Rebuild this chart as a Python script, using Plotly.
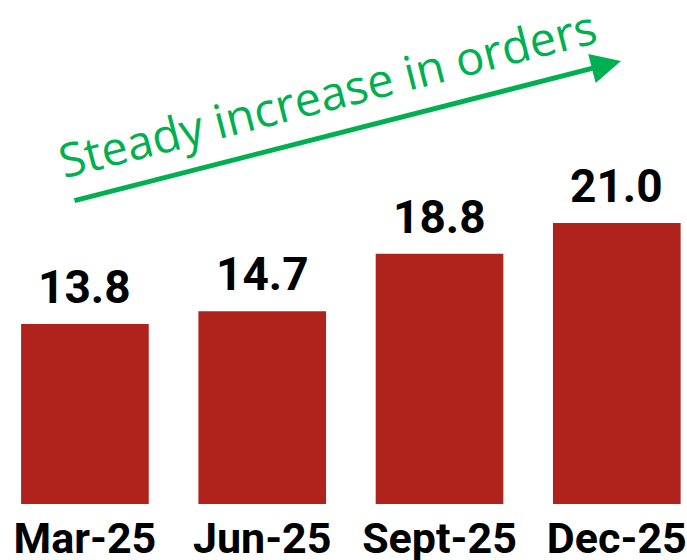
import plotly.graph_objects as go

categories = ["Mar-25", "Jun-25", "Sept-25", "Dec-25"]
orders = [13.8, 14.7, 18.8, 21.0]
value_labels = ["13.8", "14.7", "18.8", "21.0"]
trend_text = "Steady increase in orders"

BAR_COLOR = "#B0221C"
GREEN = "#00B050"
LABEL_FONT = "Roboto, Liberation Sans, Arial, sans-serif"

fig = go.Figure()
fig.add_trace(go.Bar(
    x=categories,
    y=orders,
    marker=dict(color=BAR_COLOR, line=dict(width=0)),
    width=0.72,
    hoverinfo="skip",
))

for c, v, t in zip(categories, orders, value_labels):
    fig.add_annotation(
        x=c, y=v, text=f"<b>{t}</b>", showarrow=False,
        xanchor="center", yanchor="bottom", yshift=8,
        font=dict(family=LABEL_FONT, size=46, color="#000000"),
    )

# trend arrow
fig.add_annotation(
    xref="paper", yref="paper", x=621/687, y=(504-61)/504,
    ax=-548, ay=140, axref="pixel", ayref="pixel",
    text="", showarrow=True, arrowhead=2, arrowsize=1.2, arrowwidth=5,
    arrowcolor=GREEN, standoff=0,
)
fig.add_annotation(
    xref="paper", yref="paper", x=327/687, y=(504-93)/504,
    text=trend_text, showarrow=False, textangle=-14.3,
    xanchor="center", yanchor="middle",
    font=dict(family="Open Sans, Noto Sans, sans-serif", size=47, color=GREEN),
)

fig.update_layout(
    width=687, height=560,
    margin=dict(l=0, r=0, t=0, b=56),
    paper_bgcolor="white", plot_bgcolor="white",
    showlegend=False,
    xaxis=dict(
        range=[-0.479, 3.396], showgrid=False, zeroline=False, showline=False,
        ticks="", automargin=False, tickangle=0, ticklabelstandoff=5,
        tickfont=dict(family=LABEL_FONT, size=43, color="#000000"),
        tickvals=categories, ticktext=[f"<b>{c}</b>" for c in categories],
    ),
    yaxis=dict(
        range=[0.97, 36.89], showgrid=False, zeroline=False, showline=False,
        showticklabels=False, ticks="", automargin=False,
    ),
)

fig.write_html(
    "out.html",
    config={"displayModeBar": False},
    post_script="document.body.style.margin='0';document.body.style.overflow='hidden';",
)
